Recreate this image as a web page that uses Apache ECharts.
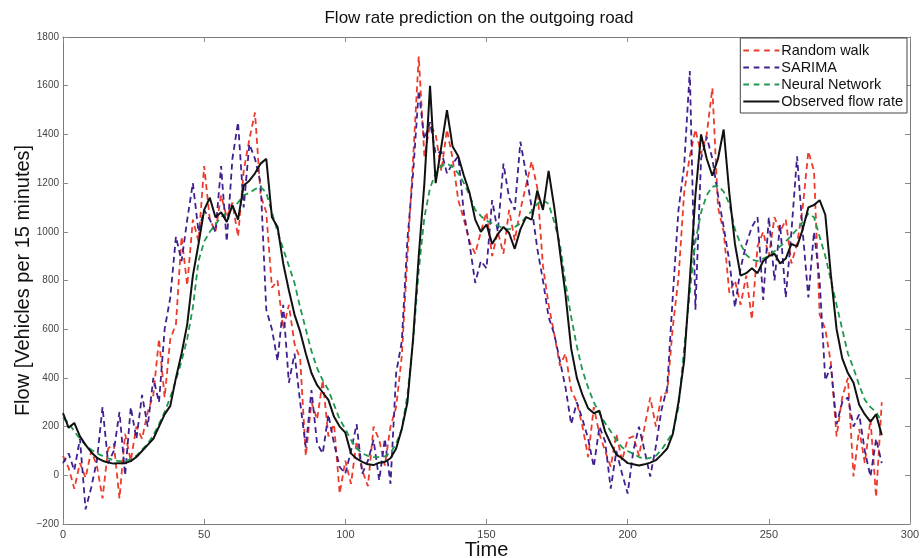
<!DOCTYPE html>
<html>
<head>
<meta charset="utf-8">
<script src="https://cdn.jsdelivr.net/npm/echarts@6/dist/echarts.min.js"></script>
<style>
  html, body { margin: 0; padding: 0; background: #fff; }
  #chart { width: 920px; height: 558px; }
</style>
</head>
<body>
<div id="chart"></div>
<script>
// time index (15 minute steps), sampled every 2 steps
var time = [0,2,4,6,8,10,12,14,16,18,20,22,24,26,28,30,32,34,36,38,40,42,44,46,48,50,52,54,56,58,
  60,62,64,66,68,70,72,74,76,78,80,82,84,86,88,90,92,94,96,98,100,102,104,106,108,110,112,114,116,118,
  120,122,124,126,128,130,132,134,136,138,140,142,144,146,148,150,152,154,156,158,160,162,164,166,168,170,172,174,176,178,
  180,182,184,186,188,190,192,194,196,198,200,202,204,206,208,210,212,214,216,218,220,222,224,226,228,230,232,234,236,238,
  240,242,244,246,248,250,252,254,256,258,260,262,264,266,268,270,272,274,276,278,280,282,284,286,288,290];

var randomWalk = [80,30,-55,50,-10,100,40,-95,110,130,-95,170,60,200,150,260,330,560,320,560,
  620,980,780,1050,960,1270,1050,1000,1150,1060,1120,980,1250,1380,1490,1150,1080,770,800,600,
  700,540,480,80,300,230,390,160,210,-75,60,-35,140,20,-45,200,145,40,200,280,
  490,900,1300,1720,1310,1440,1400,1250,1420,1300,1130,1050,960,910,1000,1080,900,1000,910,1090,
  965,1090,1190,1290,1180,860,700,580,450,500,350,300,200,75,280,170,100,35,170,60,
  150,160,80,200,320,200,330,340,610,810,1160,1310,1420,1320,1400,1590,1100,1000,750,800,
  700,820,640,940,1000,900,1060,1000,1050,870,950,1100,1330,1250,660,600,460,160,320,400,
  -5,190,50,230,-90,300];

var sarima = [50,90,20,150,-140,-50,60,280,50,100,260,0,280,150,330,200,400,300,600,730,
  980,880,1050,1200,1000,1090,1050,1000,1270,960,1300,1450,1100,1360,1300,1200,680,600,470,700,
  380,500,300,115,350,130,90,250,130,34,7,100,210,7,60,145,-20,150,-35,420,
  550,970,1240,1580,1380,1450,1320,1330,1240,1280,1310,1075,950,790,880,850,1130,1000,1280,1140,
  1090,1370,1240,1100,930,800,650,580,470,360,210,300,230,150,35,200,140,-55,100,7,
  -75,100,200,100,-5,120,270,360,740,1090,1270,1660,680,1300,1390,1300,1150,1020,880,690,
  850,950,1020,1060,720,1060,800,1030,730,1000,1310,1000,730,1000,800,390,450,210,300,320,
  200,250,100,-5,150,50];

var neuralNet = [235,215,180,150,125,105,90,80,70,62,58,58,65,80,105,130,165,210,260,320,
  390,470,560,690,880,960,1000,1030,1060,1080,1100,1120,1150,1160,1175,1185,1160,1080,1000,930,
  860,790,690,600,510,440,390,350,290,230,190,145,110,90,80,75,75,78,92,130,
  190,330,550,840,1060,1180,1240,1270,1280,1265,1240,1200,1150,1090,1065,1045,1035,1025,1015,1010,
  1020,1035,1060,1085,1115,1130,1115,1040,950,790,650,530,430,360,300,255,215,180,145,115,
  100,88,75,68,72,80,105,140,175,280,520,750,960,1080,1150,1185,1190,1165,1115,1010,
  950,905,885,880,890,900,920,940,960,985,1010,1040,1075,1060,980,900,800,700,600,500,
  440,370,310,280,260,220];

var observed = [255,195,215,160,125,95,72,60,52,48,50,50,58,75,100,125,150,200,250,285,
  400,500,620,820,950,1090,1140,1060,1080,1040,1110,1050,1190,1210,1240,1280,1300,1060,1020,870,
  760,660,590,500,420,370,340,310,240,200,175,90,68,55,45,42,52,55,70,110,
  190,300,560,900,1200,1600,1200,1350,1500,1350,1310,1230,1160,1050,1000,1030,950,990,1020,995,
  930,1010,1060,1050,1170,1090,1250,1100,920,740,520,400,330,275,255,265,180,130,85,70,
  50,45,40,45,52,62,85,110,170,300,470,800,1150,1400,1300,1230,1300,1420,1160,950,
  820,830,850,830,880,900,910,870,890,950,940,1010,1100,1110,1130,1070,820,600,480,420,
  380,290,250,220,250,165];

var xTicks = [0, 50, 100, 150, 200, 250, 300];
var yTicks = [-200, 0, 200, 400, 600, 800, 1000, 1200, 1400, 1600, 1800];

function pairs(vals) {
  return vals.map(function (v, i) { return [time[i], v]; });
}

var chart = echarts.init(document.getElementById('chart'), null, { renderer: 'canvas' });

var font = 'Liberation Sans, Arial, sans-serif';
var dashIcon = 'path://M0,0h6v2h-6z M11,0h6v2h-6z M22,0h6v2h-6z M33,0h5v2h-5z';
var solidIcon = 'path://M0,0h38v2h-38z';

function boxAxis(extra) {
  return Object.assign({
    axisLine: { show: true, onZero: false, lineStyle: { color: '#7a7a7a', width: 1 } },
    axisTick: { show: true, inside: true, length: 5, lineStyle: { color: '#8a8a8a' } },
    splitLine: { show: false }
  }, extra);
}

var option = {
  backgroundColor: '#fff',
  animation: false,
  title: {
    text: 'Flow rate prediction on the outgoing road',
    left: 474, top: 5, textAlign: 'center',
    textStyle: { fontFamily: font, fontSize: 17, fontWeight: 'normal', color: '#111' }
  },
  grid: { left: 63, right: 10, top: 37, bottom: 34, outerBoundsMode: 'none', containLabel: false },
  legend: {
    orient: 'vertical',
    right: 13, top: 38,
    backgroundColor: '#fff',
    borderColor: '#444', borderWidth: 1,
    padding: [5, 4, 4, 3],
    itemWidth: 36, itemHeight: 2, itemGap: 2,
    align: 'left',
    textStyle: { fontFamily: font, fontSize: 14.5, color: '#111', padding: [0, 0, 0, -3] },
    data: [
      { name: 'Random walk', icon: dashIcon },
      { name: 'SARIMA', icon: dashIcon },
      { name: 'Neural Network', icon: dashIcon },
      { name: 'Observed flow rate', icon: solidIcon }
    ]
  },
  xAxis: [
    boxAxis({
      type: 'value', min: 0, max: 300, interval: 50, position: 'bottom',
      name: 'Time', nameLocation: 'middle', nameGap: 16, nameMoveOverlap: false,
      nameTextStyle: { fontFamily: font, fontSize: 20, color: '#111' },
      axisLabel: { fontFamily: font, fontSize: 11, color: '#444', margin: 5,
        formatter: function (v) { return xTicks.indexOf(v) >= 0 ? String(v) : ''; } }
    }),
    boxAxis({
      type: 'value', min: 0, max: 300, interval: 50, position: 'top',
      axisLabel: { show: false }
    })
  ],
  yAxis: [
    boxAxis({
      type: 'value', min: -200, max: 1800, interval: 200, position: 'left',
      name: 'Flow [Vehicles per 15 minutes]', nameLocation: 'middle', nameGap: 30, nameMoveOverlap: false,
      nameTextStyle: { fontFamily: font, fontSize: 20, color: '#111' },
      axisLabel: { fontFamily: font, fontSize: 10, color: '#444', margin: 4,
        formatter: function (v) {
          if (yTicks.indexOf(v) < 0) return '';
          return v < 0 ? '\u2212' + Math.abs(v) : String(v);
        } }
    }),
    boxAxis({
      type: 'value', min: -200, max: 1800, interval: 200, position: 'right',
      axisLabel: { show: false }
    })
  ],
  series: [
    {
      name: 'Random walk', type: 'line', data: pairs(randomWalk),
      symbol: 'none', showSymbol: false,
      lineStyle: { color: '#ec3b2c', width: 1.8, type: [6, 4] },
      itemStyle: { color: '#ec3b2c' }
    },
    {
      name: 'SARIMA', type: 'line', data: pairs(sarima),
      symbol: 'none', showSymbol: false,
      lineStyle: { color: '#40208e', width: 1.8, type: [6, 4] },
      itemStyle: { color: '#40208e' }
    },
    {
      name: 'Neural Network', type: 'line', data: pairs(neuralNet),
      symbol: 'none', showSymbol: false,
      lineStyle: { color: '#1e9a4e', width: 1.8, type: [6, 4] },
      itemStyle: { color: '#1e9a4e' }
    },
    {
      name: 'Observed flow rate', type: 'line', data: pairs(observed),
      symbol: 'none', showSymbol: false,
      lineStyle: { color: '#111', width: 2 },
      itemStyle: { color: '#111' }
    }
  ]
};

chart.setOption(option);
</script>
</body>
</html>
